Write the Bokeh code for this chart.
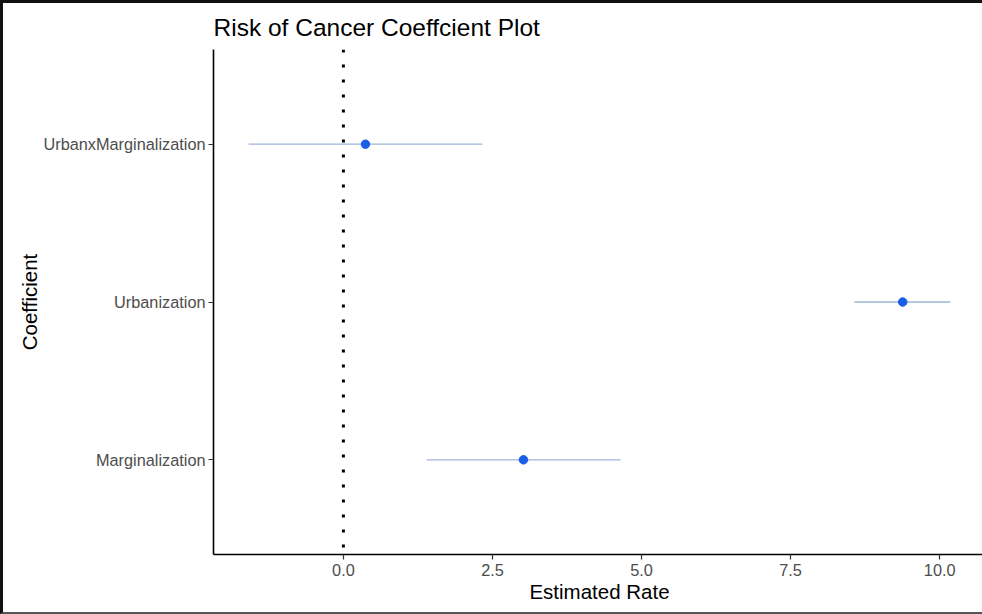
from bokeh.plotting import figure
from bokeh.models import Range1d, FactorRange, FixedTicker, Span, ColumnDataSource
from bokeh.embed import file_html
from bokeh.resources import INLINE

# ---- data ----
coefficients = ["Marginalization", "Urbanization", "UrbanxMarginalization"]
estimates = [3.02, 9.38, 0.37]
lower = [1.40, 8.57, -1.59]
upper = [4.65, 10.18, 2.33]
x_ticks = [0, 2.5, 5, 7.5, 10]
x_tick_labels = ["0.0", "2.5", "5.0", "7.5", "10.0"]
ref_line = 0

src = ColumnDataSource(dict(coef=coefficients, est=estimates, lo=lower, hi=upper))

span_lo = min(lower)
span_hi = max(upper)
pad = (span_hi - span_lo) * 0.05

FONT = "Liberation Sans"

p = figure(
    width=982, height=614,
    x_range=Range1d(span_lo - pad, span_hi + pad),
    y_range=FactorRange(factors=coefficients, range_padding=0.1,
                        range_padding_units="absolute", factor_padding=0),
    output_backend="svg", toolbar_location=None,
    min_border_left=210, min_border_right=0, min_border_top=46, min_border_bottom=63,
    title="Risk of Cancer Coeffcient Plot",
)
p.styles = {"border-left": "3px solid #111", "border-top": "3px solid #111",
            "border-bottom": "2px solid #555", "box-sizing": "border-box"}

p.title.text_font = FONT
p.title.text_font_size = "24.5px"
p.title.text_font_style = "normal"
p.title.text_color = "black"
p.title.align = "left"
p.title.offset = 0
p.title.standoff = 17

p.outline_line_color = None
p.xgrid.visible = False
p.ygrid.visible = False
p.background_fill_color = "white"
p.border_fill_color = "white"

# dotted reference line
p.add_layout(Span(location=ref_line, dimension="height", line_color="black",
                  line_width=3, line_dash="3 12"))

# error bars and points
p.segment(x0="lo", x1="hi", y0="coef", y1="coef", source=src,
          line_color="#9fb5d9", line_width=1.3)
p.scatter(x="est", y="coef", source=src, size=8.5, fill_color="#1a5ee6",
          line_color="#1a5ee6")

for ax in (p.xaxis[0], p.yaxis[0]):
    ax.axis_line_color = "black"
    ax.axis_line_width = 1.6
    ax.major_tick_line_color = "#333333"
    ax.major_tick_line_width = 1.2
    ax.major_tick_out = 5
    ax.major_tick_in = 0
    ax.minor_tick_line_color = None
    ax.major_label_text_font = FONT
    ax.major_label_text_color = "#4d4d4d"
    ax.major_label_text_font_size = "16.3px"
    ax.axis_label_text_font = FONT
    ax.axis_label_text_font_size = "20.5px"
    ax.axis_label_text_font_style = "normal"
    ax.axis_label_text_color = "black"

p.xaxis.ticker = FixedTicker(ticks=x_ticks)
p.xaxis.major_label_overrides = {t: l for t, l in zip(x_ticks, x_tick_labels)}
p.xaxis.axis_label = "Estimated Rate"
p.xaxis.major_label_standoff = 4
p.xaxis.axis_label_standoff = 1

p.yaxis.axis_label = "Coefficient"
p.yaxis.major_label_standoff = 3
p.yaxis.axis_label_standoff = 0

open("out.html", "w").write(file_html(p, INLINE))
